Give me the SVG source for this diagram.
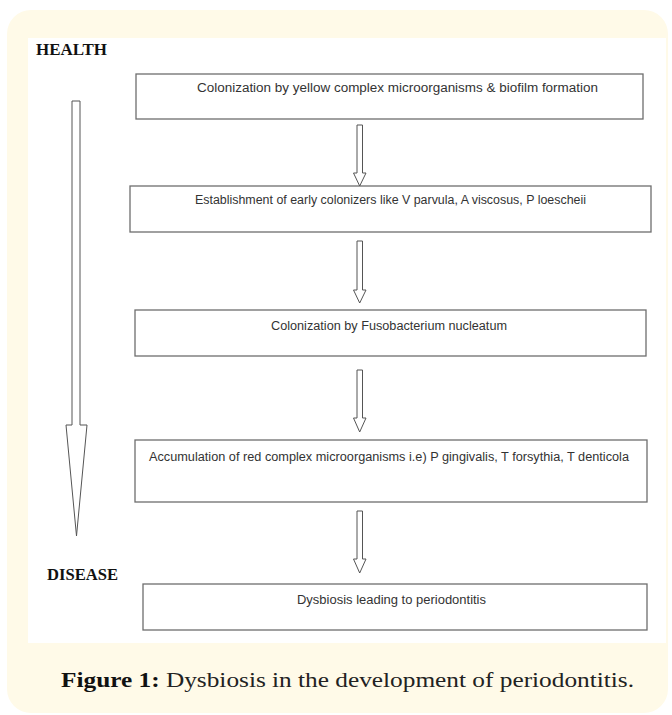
<svg xmlns="http://www.w3.org/2000/svg" width="672" height="715" viewBox="0 0 672 715">
<style>
.box{fill:#fff;stroke:#6e6e6e;stroke-width:1.3}
.arr{fill:#fff;stroke:#555;stroke-width:1}
.t{font-family:"Liberation Sans",Arial,sans-serif;font-size:12.5px;fill:#333}
.lab{font-family:"Liberation Serif","Times New Roman",serif;font-size:16.5px;font-weight:bold;fill:#111}
.cap{font-family:"Liberation Serif","Times New Roman",serif;font-size:21.5px;fill:#222}
</style>
<rect x="7" y="10" width="661" height="703" rx="24" fill="#fffae8"/>
<rect x="28" y="38" width="638" height="605" fill="#fff"/>
<g id="health"><text class="lab" x="36" y="55" textLength="71" lengthAdjust="spacingAndGlyphs">HEALTH</text></g>
<g id="disease"><text class="lab" x="47" y="580" textLength="71" lengthAdjust="spacingAndGlyphs">DISEASE</text></g>
<g id="trend"><path class="arr" d="M72,101 H80 V425 H87 L76.5,536 L66,425 H72 Z"/></g>
<g id="n1"><rect class="box" x="136" y="74" width="507" height="45"/><text class="t" x="197" y="92" textLength="401" lengthAdjust="spacingAndGlyphs">Colonization by yellow complex microorganisms &amp; biofilm formation</text></g>
<g id="n2"><rect class="box" x="130" y="186" width="521" height="46"/><text class="t" x="195" y="204" textLength="391" lengthAdjust="spacingAndGlyphs">Establishment of early colonizers like V parvula, A viscosus, P loescheii</text></g>
<g id="n3"><rect class="box" x="135" y="310" width="511" height="46"/><text class="t" x="271" y="330" textLength="236" lengthAdjust="spacingAndGlyphs">Colonization by Fusobacterium nucleatum</text></g>
<g id="n4"><rect class="box" x="135" y="440" width="512" height="62"/><text class="t" x="149" y="461" textLength="480" lengthAdjust="spacingAndGlyphs">Accumulation of red complex microorganisms i.e) P gingivalis, T forsythia, T denticola</text></g>
<g id="n5"><rect class="box" x="143" y="584" width="504" height="46"/><text class="t" x="297" y="604" textLength="189" lengthAdjust="spacingAndGlyphs">Dysbiosis leading to periodontitis</text></g>
<g id="connectors">
<path class="arr" d="M357,125 H362.5 V173 H366 L359.7,186 L353.5,173 H357 Z"/>
<path class="arr" d="M357,241 H362.5 V290 H366 L359.7,303 L353.5,290 H357 Z"/>
<path class="arr" d="M357,370 H362.5 V418 H366 L359.7,432 L353.5,418 H357 Z"/>
<path class="arr" d="M357,511 H362.5 V559 H366 L359.7,573 L353.5,559 H357 Z"/>
</g>
<text class="cap" x="61" y="687" textLength="573" lengthAdjust="spacingAndGlyphs"><tspan font-weight="bold" fill="#111">Figure 1:</tspan> Dysbiosis in the development of periodontitis.</text>
</svg>
